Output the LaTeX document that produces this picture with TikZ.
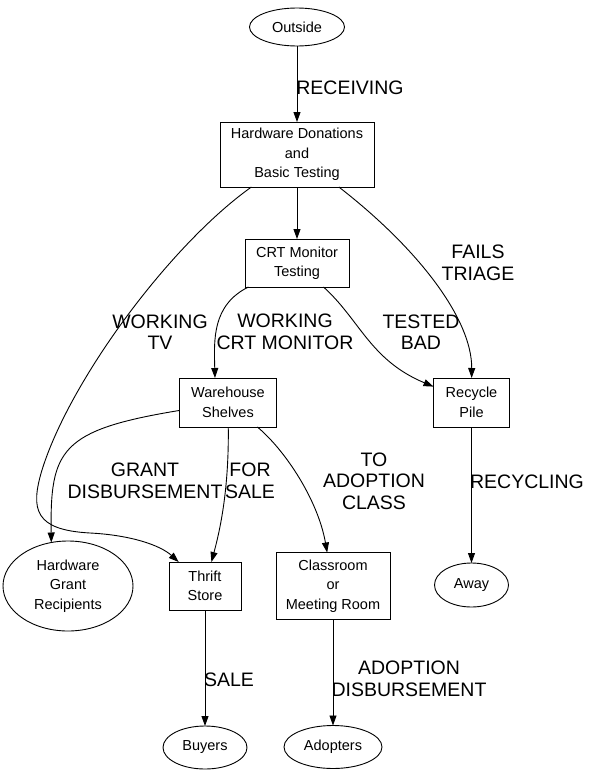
\documentclass[tikz,border=0pt]{standalone}
\usepackage{fontspec}
\setmainfont{Liberation Sans}
\usetikzlibrary{shapes,arrows.meta,positioning}

\begin{document}
\begin{tikzpicture}[
    x=1pt, y=1pt,
    node distance=40pt,
    box/.style={rectangle, draw, line width=0.9pt, inner sep=0pt, outer sep=0pt, align=center, font=\fontsize{14.5}{19.5}\selectfont},
    oval/.style={ellipse, draw, line width=0.9pt, inner sep=0pt, outer sep=0pt, align=center, font=\fontsize{14.5}{19.5}\selectfont},
    lbl/.style={align=center, font=\fontsize{19.5}{21.5}\selectfont},
    arrow/.style={-{Triangle[length=10pt,width=7pt]}, line width=0.9pt}
]
    \useasboundingbox (0,0) rectangle (589,-779);

    % Source
    \node[oval, minimum width=95pt, minimum height=38pt] (outside) at (297,-27) {Outside};

    % Intake and testing
    \node[box, minimum width=154pt, minimum height=65pt, below=76pt of outside] (donations) {Hardware Donations\\and\\Basic Testing};
    \node[box, minimum width=104pt, minimum height=48pt, below=52pt of donations] (crt) {CRT Monitor\\Testing};

    % Storage and recycling
    \node[box, minimum width=97pt, minimum height=49pt, below=91pt of crt, xshift=-69pt] (shelves) {Warehouse\\Shelves};
    \node[box, minimum width=76pt, minimum height=49pt, right=157pt of shelves] (recycle) {Recycle\\Pile};

    % Outlets
    \node[box, minimum width=72pt, minimum height=48pt, below=135pt of shelves, xshift=-23pt] (thrift) {Thrift\\Store};
    \node[box, minimum width=114pt, minimum height=67pt, right=35pt of thrift] (classroom) {Classroom\\or\\Meeting Room};
    \node[oval, minimum width=130pt, minimum height=90pt, left=36pt of thrift] (grants) {Hardware\\Grant\\Recipients};
    \node[oval, minimum width=74pt, minimum height=44pt, below=136pt of recycle] (away) {Away};

    % Final destinations
    \node[oval, minimum width=84pt, minimum height=43pt, below=116pt of thrift] (buyers) {Buyers};
    \node[oval, minimum width=98pt, minimum height=43pt, below=106pt of classroom] (adopters) {Adopters};

    % Arrows
    \draw[arrow] (outside) -- (donations);
    \draw[arrow] (donations) -- (crt);
    \draw[arrow] (donations) .. controls (420,-250) and (472,-320) .. (recycle);
    \draw[arrow] (donations) .. controls (170,-245) and (70,-380) .. (42,-470)
        .. controls (30,-510) and (35,-530) .. (90,-533)
        .. controls (130,-535) and (160,-545) .. (thrift);
    \draw[arrow] (crt) .. controls (212,-305) and (214,-340) .. ([xshift=-13pt]shelves.north);
    \draw[arrow] (crt) .. controls (360,-320) and (370,-360) .. (recycle);
    \draw[arrow] (shelves) .. controls (60,-430) and (50,-450) .. (grants.111);
    \draw[arrow] (shelves) .. controls (229,-490) and (220,-530) .. (thrift);
    \draw[arrow] (shelves) .. controls (285,-450) and (318,-500) .. (classroom);
    \draw[arrow] (recycle) -- (away);
    \draw[arrow] (thrift) -- (buyers);
    \draw[arrow] (classroom) -- (adopters);

    % Edge labels
    \node[lbl] (receiving) at (350,-88) {RECEIVING};
    \node[lbl] (triage) at (478,-263) {FAILS\\TRIAGE};
    \node[lbl] (worktv) at (160,-332) {WORKING\\TV};
    \node[lbl] (workcrt) at (285,-332) {WORKING\\CRT MONITOR};
    \node[lbl] (testedbad) at (421,-332) {TESTED\\BAD};
    \node[lbl] (grant) at (145,-481) {GRANT\\DISBURSEMENT};
    \node[lbl] (forsale) at (250,-481) {FOR\\SALE};
    \node[lbl] (toclass) at (374,-481) {TO\\ADOPTION\\CLASS};
    \node[lbl] (recycling) at (527,-482) {RECYCLING};
    \node[lbl] (sale) at (229,-680) {SALE};
    \node[lbl] (adoption) at (409,-679) {ADOPTION\\DISBURSEMENT};

\end{tikzpicture}
\end{document}
